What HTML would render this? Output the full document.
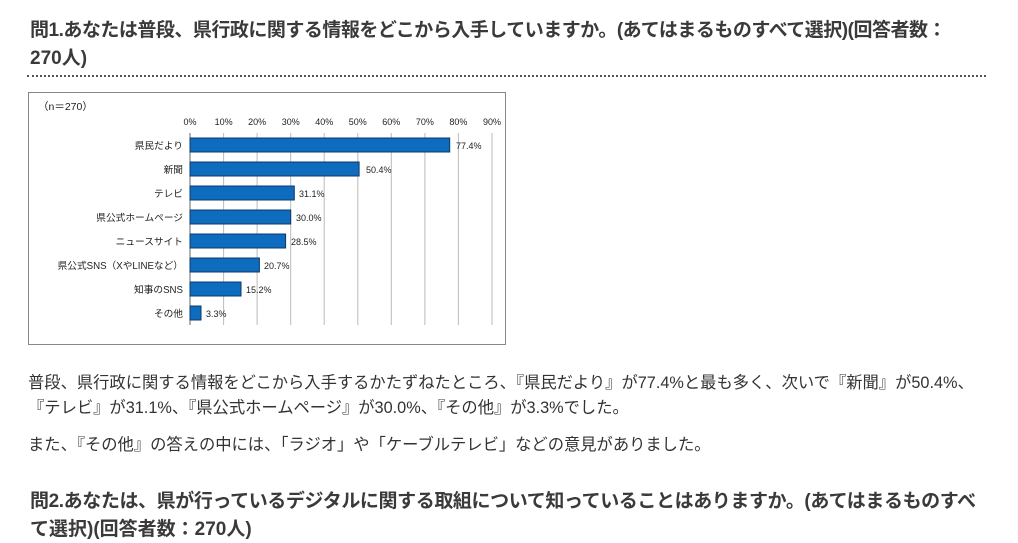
<!DOCTYPE html>
<html><head><meta charset="utf-8"><style>
body{margin:0;width:1018px;height:543px;background:#fff;position:relative;overflow:hidden;font-family:"Liberation Sans","Noto Sans CJK JP",sans-serif;color:#333}
.t{position:absolute;left:30px;font-size:19px;font-weight:bold;white-space:nowrap;color:#3a3a3a}
.p{position:absolute;left:28px;font-size:16.3px;white-space:nowrap;color:#333}
.dot{position:absolute;left:27px;top:75px;width:959px;border-top:2px dotted #555}
</style></head><body>
<div class="t" style="top:15px;letter-spacing:-0.5px">問1.あなたは普段、県行政に関する情報をどこから入手していますか。(あてはまるものすべて選択)(回答者数：</div>
<div class="t" style="top:43px">270人)</div>
<div class="dot"></div>
<svg style="position:absolute;left:0;top:0" width="1018" height="543" font-family="Liberation Sans,Noto Sans CJK JP,sans-serif">
<rect x="28.5" y="92.5" width="477" height="252" fill="#fff" stroke="#888"/>
<text x="38" y="110" font-size="10.5" fill="#222">（n＝270）</text>
<g stroke="#bbb" stroke-width="1">
<line x1="223.6" y1="133" x2="223.6" y2="325"/><line x1="257.1" y1="133" x2="257.1" y2="325"/><line x1="290.7" y1="133" x2="290.7" y2="325"/><line x1="324.2" y1="133" x2="324.2" y2="325"/><line x1="357.8" y1="133" x2="357.8" y2="325"/><line x1="391.3" y1="133" x2="391.3" y2="325"/><line x1="424.9" y1="133" x2="424.9" y2="325"/><line x1="458.4" y1="133" x2="458.4" y2="325"/><line x1="492" y1="133" x2="492" y2="325"/>
</g>
<line x1="190" y1="133" x2="190" y2="325" stroke="#666"/>
<g font-size="9" fill="#222" text-anchor="middle">
<text x="190" y="125">0%</text><text x="223.6" y="125">10%</text><text x="257.1" y="125">20%</text><text x="290.7" y="125">30%</text><text x="324.2" y="125">40%</text><text x="357.8" y="125">50%</text><text x="391.3" y="125">60%</text><text x="424.9" y="125">70%</text><text x="458.4" y="125">80%</text><text x="492" y="125">90%</text>
</g>
<g fill="#0f6bbd" stroke="#0a3a6a" stroke-width="1">
<rect x="190" y="138" width="259.7" height="14"/>
<rect x="190" y="162" width="169.1" height="14"/>
<rect x="190" y="186" width="104.3" height="14"/>
<rect x="190" y="210" width="100.7" height="14"/>
<rect x="190" y="234" width="95.6" height="14"/>
<rect x="190" y="258" width="69.4" height="14"/>
<rect x="190" y="282" width="51" height="14"/>
<rect x="190" y="306" width="11" height="14"/>
</g>
<g font-size="9.7" fill="#222" text-anchor="end">
<text x="183" y="149">県民だより</text><text x="183" y="173">新聞</text><text x="183" y="197">テレビ</text><text x="183" y="221">県公式ホームページ</text><text x="183" y="245">ニュースサイト</text><text x="183" y="269">県公式SNS（XやLINEなど）</text><text x="183" y="293">知事のSNS</text><text x="183" y="317">その他</text>
</g>
<g font-size="9" fill="#222">
<text x="456" y="149">77.4%</text><text x="366" y="173">50.4%</text><text x="299" y="197">31.1%</text><text x="296" y="221">30.0%</text><text x="291" y="245">28.5%</text><text x="264" y="269">20.7%</text><text x="246" y="293">15.2%</text><text x="206" y="317">3.3%</text>
</g>
</svg>
<div class="p" style="top:369px">普段、県行政に関する情報をどこから入手するかたずねたところ、『県民だより』が77.4%と最も多く、次いで『新聞』が50.4%、</div>
<div class="p" style="top:394px">『テレビ』が31.1%、『県公式ホームページ』が30.0%、『その他』が3.3%でした。</div>
<div class="p" style="top:431px">また、『その他』の答えの中には、「ラジオ」や「ケーブルテレビ」などの意見がありました。</div>
<div class="t" style="top:486px;letter-spacing:-0.4px">問2.あなたは、県が行っているデジタルに関する取組について知っていることはありますか。(あてはまるものすべ</div>
<div class="t" style="top:514px">て選択)(回答者数：270人)</div>
</body></html>
